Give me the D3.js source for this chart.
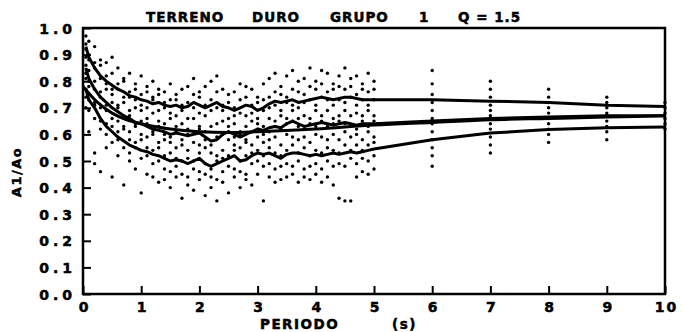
<!DOCTYPE html>
<html>
<head>
<meta charset="utf-8">
<script src="https://cdn.jsdelivr.net/npm/d3@7"></script>
<style>
  html, body { margin: 0; padding: 0; background: #fff; }
  svg { display: block; }
  text { font-family: 'DejaVu Sans', sans-serif; font-weight: bold; fill: #000; stroke: #000; stroke-width: 0.5; }
</style>
</head>
<body>
<div id="chart"></div>
<script>
// title pieces, axis labels
const titleWords = ['TERRENO', 'DURO', 'GRUPO', '1', 'Q = 1.5']
const xLabel = ['PERIODO', '(s)']
const yLabel = 'A1/Ao'
const xTicks = [0, 1, 2, 3, 4, 5, 6, 7, 8, 9, 10]
const yTicks = [0, 0.1, 0.2, 0.3, 0.4, 0.5, 0.6, 0.7, 0.8, 0.9, 1.0]

// scatter: one column of ratios per period
const dotPeriods = [0.05, 0.1, 0.2, 0.3, 0.4, 0.5, 0.6, 0.7, 0.8, 0.9, 1.0, 1.1, 1.2, 1.3, 1.4, 1.5, 1.6, 1.7, 1.8, 1.9,
  2.0, 2.1, 2.2, 2.3, 2.4, 2.5, 2.6, 2.7, 2.8, 2.9, 3.0, 3.1, 3.2, 3.3, 3.4, 3.5, 3.6, 3.7, 3.8, 3.9,
  4.0, 4.1, 4.2, 4.3, 4.4, 4.5, 4.6, 4.7, 4.8, 4.9, 5.0, 6, 7, 8, 9, 10]
const dotValues = [
  [0.97, 0.94, 0.92, 0.89, 0.86, 0.83, 0.81, 0.77, 0.74, 0.70],
  [0.95, 0.90, 0.88, 0.84, 0.80, 0.78, 0.73, 0.69, 0.61],
  [0.93, 0.87, 0.85, 0.80, 0.77, 0.72, 0.71, 0.66, 0.53, 0.49],
  [0.88, 0.86, 0.81, 0.76, 0.74, 0.70, 0.65, 0.62, 0.46],
  [0.87, 0.82, 0.79, 0.77, 0.71, 0.69, 0.64, 0.60, 0.55],
  [0.89, 0.83, 0.77, 0.75, 0.72, 0.66, 0.63, 0.57, 0.44],
  [0.85, 0.79, 0.77, 0.71, 0.70, 0.65, 0.61, 0.58, 0.52],
  [0.81, 0.80, 0.74, 0.72, 0.67, 0.63, 0.62, 0.55, 0.41],
  [0.83, 0.76, 0.74, 0.69, 0.67, 0.61, 0.58, 0.53, 0.50],
  [0.79, 0.77, 0.73, 0.70, 0.64, 0.63, 0.57, 0.55, 0.47],
  [0.82, 0.75, 0.71, 0.69, 0.65, 0.60, 0.58, 0.51, 0.38],
  [0.78, 0.76, 0.70, 0.66, 0.64, 0.59, 0.55, 0.52, 0.45],
  [0.80, 0.74, 0.73, 0.68, 0.61, 0.60, 0.54, 0.49, 0.44],
  [0.77, 0.75, 0.69, 0.65, 0.63, 0.57, 0.55, 0.50, 0.42],
  [0.76, 0.72, 0.70, 0.64, 0.60, 0.58, 0.52, 0.47, 0.43],
  [0.79, 0.73, 0.68, 0.66, 0.59, 0.57, 0.53, 0.46, 0.40],
  [0.75, 0.73, 0.67, 0.63, 0.61, 0.55, 0.51, 0.48, 0.44],
  [0.77, 0.71, 0.69, 0.64, 0.58, 0.56, 0.50, 0.45, 0.36],
  [0.78, 0.72, 0.66, 0.62, 0.60, 0.54, 0.51, 0.44, 0.41],
  [0.81, 0.75, 0.70, 0.66, 0.61, 0.57, 0.50, 0.47, 0.39],
  [0.76, 0.74, 0.68, 0.63, 0.62, 0.56, 0.53, 0.46, 0.43],
  [0.78, 0.71, 0.67, 0.61, 0.58, 0.55, 0.49, 0.45, 0.37],
  [0.80, 0.73, 0.69, 0.63, 0.56, 0.53, 0.47, 0.44, 0.40],
  [0.82, 0.76, 0.70, 0.64, 0.59, 0.52, 0.50, 0.43, 0.35],
  [0.77, 0.71, 0.69, 0.65, 0.60, 0.54, 0.51, 0.46, 0.42],
  [0.75, 0.72, 0.66, 0.63, 0.61, 0.58, 0.52, 0.48, 0.38],
  [0.76, 0.70, 0.67, 0.64, 0.59, 0.56, 0.54, 0.47, 0.44],
  [0.79, 0.73, 0.68, 0.61, 0.60, 0.55, 0.50, 0.46, 0.40],
  [0.78, 0.74, 0.67, 0.63, 0.58, 0.57, 0.52, 0.45, 0.43],
  [0.77, 0.71, 0.68, 0.65, 0.61, 0.56, 0.53, 0.49, 0.41],
  [0.74, 0.72, 0.66, 0.64, 0.62, 0.59, 0.54, 0.50, 0.45],
  [0.79, 0.73, 0.69, 0.63, 0.60, 0.57, 0.52, 0.48, 0.35],
  [0.81, 0.74, 0.70, 0.66, 0.61, 0.58, 0.55, 0.49, 0.44],
  [0.83, 0.76, 0.71, 0.65, 0.63, 0.59, 0.53, 0.47, 0.42],
  [0.78, 0.75, 0.69, 0.67, 0.62, 0.56, 0.52, 0.48, 0.43],
  [0.82, 0.74, 0.72, 0.66, 0.64, 0.60, 0.54, 0.49, 0.44],
  [0.84, 0.77, 0.71, 0.69, 0.65, 0.59, 0.56, 0.48, 0.45],
  [0.80, 0.76, 0.70, 0.66, 0.63, 0.58, 0.53, 0.50, 0.42],
  [0.81, 0.75, 0.72, 0.67, 0.62, 0.59, 0.55, 0.47, 0.44],
  [0.85, 0.78, 0.73, 0.66, 0.64, 0.57, 0.52, 0.48, 0.43],
  [0.80, 0.77, 0.71, 0.69, 0.63, 0.60, 0.54, 0.49, 0.45],
  [0.84, 0.79, 0.74, 0.67, 0.65, 0.59, 0.53, 0.47, 0.42],
  [0.83, 0.76, 0.73, 0.69, 0.63, 0.58, 0.55, 0.50, 0.44],
  [0.79, 0.77, 0.71, 0.66, 0.64, 0.60, 0.54, 0.48, 0.41],
  [0.82, 0.78, 0.73, 0.67, 0.65, 0.58, 0.53, 0.49, 0.36],
  [0.85, 0.77, 0.72, 0.69, 0.64, 0.61, 0.56, 0.48, 0.35],
  [0.81, 0.78, 0.74, 0.67, 0.63, 0.59, 0.54, 0.51, 0.35],
  [0.82, 0.75, 0.71, 0.68, 0.62, 0.60, 0.56, 0.49, 0.44],
  [0.79, 0.77, 0.73, 0.67, 0.65, 0.58, 0.54, 0.51, 0.46],
  [0.83, 0.76, 0.71, 0.69, 0.63, 0.61, 0.56, 0.50, 0.45],
  [0.80, 0.77, 0.73, 0.67, 0.65, 0.59, 0.57, 0.52, 0.47],
  [0.84, 0.79, 0.75, 0.72, 0.69, 0.66, 0.64, 0.61, 0.58, 0.55, 0.52, 0.48],
  [0.80, 0.77, 0.74, 0.71, 0.69, 0.67, 0.66, 0.64, 0.62, 0.59, 0.56, 0.53],
  [0.77, 0.74, 0.72, 0.70, 0.68, 0.66, 0.64, 0.62, 0.60, 0.57],
  [0.74, 0.72, 0.70, 0.68, 0.67, 0.65, 0.63, 0.61, 0.58],
  [0.72, 0.70, 0.68, 0.66, 0.64, 0.62]
]

// mean + sigma, mean, mean - sigma (same periods as the dot columns)
const upper = [0.93, 0.89, 0.85, 0.82, 0.80, 0.785, 0.77, 0.76, 0.745, 0.74, 0.73, 0.725, 0.715, 0.72, 0.71, 0.705, 0.71, 0.70, 0.705, 0.72,
  0.71, 0.70, 0.71, 0.72, 0.705, 0.70, 0.69, 0.70, 0.71, 0.705, 0.69, 0.70, 0.715, 0.725, 0.72, 0.725, 0.73, 0.72, 0.725, 0.73,
  0.735, 0.74, 0.735, 0.73, 0.735, 0.74, 0.74, 0.735, 0.73, 0.73, 0.73, 0.73, 0.725, 0.72, 0.71, 0.705]
const mean = [0.85, 0.81, 0.77, 0.74, 0.72, 0.70, 0.685, 0.67, 0.66, 0.645, 0.64, 0.63, 0.62, 0.615, 0.61, 0.60, 0.605, 0.60, 0.595, 0.60,
  0.605, 0.59, 0.575, 0.58, 0.60, 0.61, 0.60, 0.59, 0.60, 0.61, 0.62, 0.615, 0.625, 0.63, 0.625, 0.64, 0.65, 0.64, 0.63, 0.635,
  0.64, 0.645, 0.64, 0.635, 0.64, 0.645, 0.64, 0.635, 0.64, 0.64, 0.64, 0.65, 0.66, 0.665, 0.67, 0.67]
const lower = [0.77, 0.73, 0.70, 0.66, 0.63, 0.61, 0.59, 0.575, 0.56, 0.55, 0.54, 0.535, 0.525, 0.52, 0.51, 0.50, 0.505, 0.50, 0.49, 0.50,
  0.51, 0.49, 0.48, 0.49, 0.50, 0.51, 0.52, 0.50, 0.505, 0.52, 0.53, 0.525, 0.53, 0.52, 0.51, 0.525, 0.53, 0.53, 0.525, 0.52,
  0.525, 0.52, 0.525, 0.53, 0.525, 0.53, 0.535, 0.53, 0.535, 0.54, 0.545, 0.58, 0.605, 0.618, 0.625, 0.628]

// fitted smooth curve
const fitPeriods = [0, 0.25, 0.5, 0.75, 1, 1.5, 2, 2.5, 3, 4, 5, 6, 7, 8, 9, 10]
const fitValues = [0.78, 0.72, 0.68, 0.655, 0.64, 0.62, 0.61, 0.607, 0.61, 0.62, 0.635, 0.645, 0.655, 0.66, 0.665, 0.67]

const width = 682
const height = 332
const margin = { top: 28, right: 17, bottom: 38, left: 83 }

const svg = d3.select('#chart')
  .append('svg')
  .attr('width', width)
  .attr('height', height)

svg.append('rect').attr('width', width).attr('height', height).attr('fill', '#fff')

const x = d3.scaleLinear().domain([0, 10]).range([margin.left, width - margin.right])
const y = d3.scaleLinear().domain([0, 1]).range([height - margin.bottom, margin.top])

// dots
const dots = []
dotPeriods.forEach((p, i) => dotValues[i].forEach(v => dots.push({ p, v })))
svg.append('g')
  .selectAll('circle')
  .data(dots)
  .enter()
  .append('circle')
  .attr('cx', d => x(d.p))
  .attr('cy', d => y(d.v))
  .attr('r', 1.7)
  .attr('fill', '#000')

// curves
const line = d3.line()
  .x(d => x(d[0]))
  .y(d => y(d[1]))

;[upper, mean, lower].forEach(series => {
  svg.append('path')
    .datum(dotPeriods.map((p, i) => [p, series[i]]))
    .attr('fill', 'none')
    .attr('stroke', '#000')
    .attr('stroke-width', 3)
    .attr('stroke-linejoin', 'round')
    .attr('d', line)
})

svg.append('path')
  .datum(fitPeriods.map((p, i) => [p, fitValues[i]]))
  .attr('fill', 'none')
  .attr('stroke', '#000')
  .attr('stroke-width', 3)
  .attr('d', line.curve(d3.curveMonotoneX))

// axes, ticks pointing inside the frame
const xAxis = d3.axisBottom(x).tickValues(xTicks).tickSizeInner(-8).tickSizeOuter(0).tickPadding(8)
const yAxis = d3.axisLeft(y).tickValues(yTicks).tickSizeInner(-8).tickSizeOuter(0).tickPadding(7)
  .tickFormat(d3.format('.1f'))

const gx = svg.append('g')
  .attr('transform', `translate(0, ${height - margin.bottom})`)
  .call(xAxis)
const gy = svg.append('g')
  .attr('transform', `translate(${margin.left}, 0)`)
  .call(yAxis)

;[gx, gy].forEach(g => {
  g.select('.domain').remove()
  g.selectAll('line').attr('stroke', '#000').attr('stroke-width', 2)
  g.selectAll('text')
    .attr('font-family', "'DejaVu Sans', sans-serif")
    .attr('font-weight', 'bold')
    .attr('font-size', 14)
    .attr('fill', '#000')
})
gy.selectAll('text').attr('dy', '0.36em').attr('letter-spacing', 4)
gx.selectAll('text').attr('letter-spacing', 2).attr('dx', 1)

// frame
svg.append('rect')
  .attr('x', x(0))
  .attr('y', y(1))
  .attr('width', x(10) - x(0))
  .attr('height', y(0) - y(1))
  .attr('fill', 'none')
  .attr('stroke', '#000')
  .attr('stroke-width', 2.5)

// title
const titleX = [146, 252, 330, 419, 458]
svg.append('g')
  .selectAll('text')
  .data(titleWords)
  .enter()
  .append('text')
  .attr('x', (d, i) => titleX[i])
  .attr('y', 22)
  .attr('font-size', 13.5)
  .attr('letter-spacing', 1)
  .attr('xml:space', 'preserve')
  .text(d => d)

svg.append('text')
  .attr('x', 260)
  .attr('y', 329)
  .attr('font-size', 13.5)
  .attr('letter-spacing', 1.5)
  .text(xLabel[0])
svg.append('text')
  .attr('x', 392)
  .attr('y', 329)
  .attr('font-size', 13.5)
  .attr('letter-spacing', 1.5)
  .text(xLabel[1])

svg.append('text')
  .attr('transform', 'translate(21, 172) rotate(-90)')
  .attr('text-anchor', 'middle')
  .attr('font-size', 13)
  .attr('letter-spacing', 1.5)
  .text(yLabel)
</script>
</body>
</html>
